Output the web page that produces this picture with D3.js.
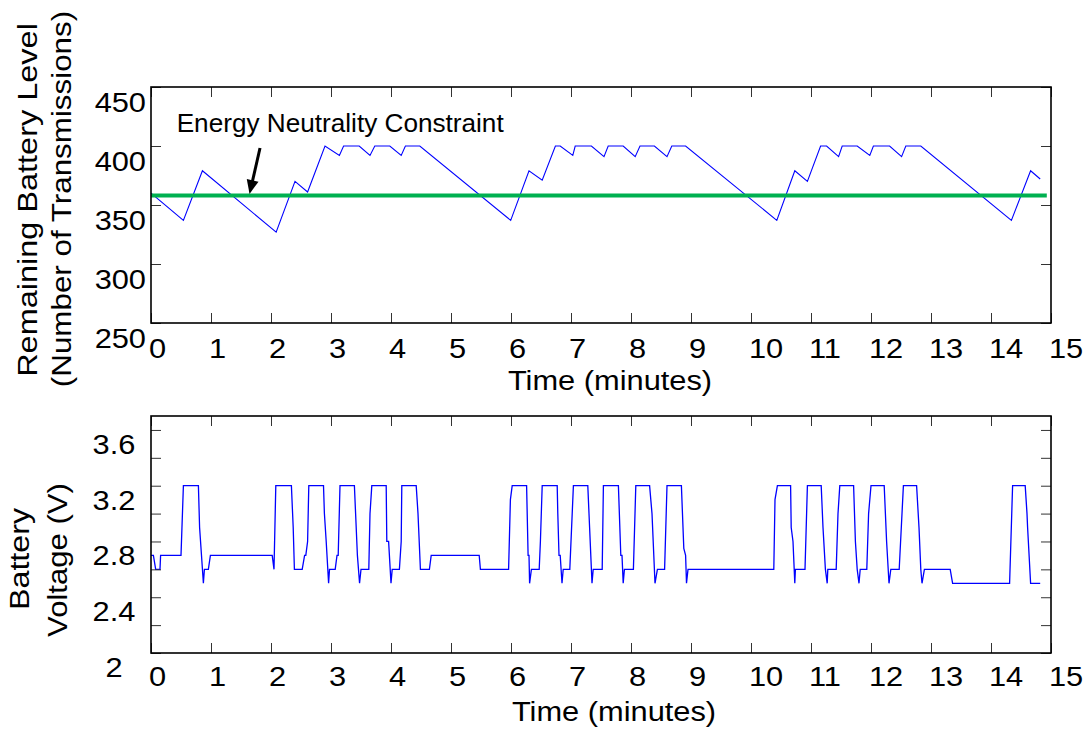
<!DOCTYPE html>
<html>
<head>
<meta charset="utf-8">
<script src="https://cdn.jsdelivr.net/npm/d3@7"></script>
<style>
  body { margin: 0; background: #fff; }
  svg { display: block; }
  text { font-family: "Liberation Sans", Arial, Helvetica, sans-serif; fill: #000; }
</style>
</head>
<body>
<svg id="chart" width="1089" height="734"></svg>
<script>
// ---- Remaining battery level (number of transmissions) over time ----
const levelTime = [0, 0.54, 0.857, 2.086, 2.40, 2.61, 2.90, 3.14, 3.21, 3.47, 3.65, 3.73, 3.98, 4.17, 4.24, 4.48,
  5.995, 6.30, 6.52, 6.74, 6.82, 7.03, 7.07, 7.34, 7.55, 7.62, 7.87, 8.07, 8.15, 8.39, 8.60, 8.68, 8.91,
  10.43, 10.73, 10.94, 11.16, 11.26, 11.46, 11.52, 11.77, 11.98, 12.04, 12.31, 12.51, 12.58, 12.83,
  14.34, 14.66, 14.82];
const levelValue = [360, 337, 379, 327, 370, 361, 400, 392, 400, 400, 392, 400, 400, 392, 400, 400,
  337, 379, 371, 400, 400, 392, 400, 400, 391, 400, 400, 391, 400, 400, 391, 400, 400,
  337, 379, 370, 400, 400, 391, 400, 400, 392, 400, 400, 391, 400, 400,
  337, 379, 372];

// Energy neutrality constraint (horizontal reference level)
const neutralityLevel = 358;
const neutralitySpan = [0, 14.93];

// ---- Battery voltage over time ----
const voltTime = [0, 0.04, 0.078, 0.15, 0.16, 0.50, 0.54, 0.79, 0.81, 0.873, 0.89, 0.956, 0.99,
  2.02, 2.05, 2.08, 2.34, 2.36, 2.37, 2.39, 2.52, 2.56, 2.58, 2.61, 2.63,
  2.875, 2.89, 2.92, 2.96, 2.975, 3.07, 3.10, 3.12, 3.15,
  3.39, 3.41, 3.44, 3.476, 3.50, 3.63, 3.65, 3.68,
  3.92, 3.93, 3.96, 4.00, 4.02, 4.14, 4.17, 4.18,
  4.42, 4.45, 4.46, 4.49, 4.64, 4.67,
  5.47, 5.49, 5.96, 5.99, 6.02,
  6.26, 6.285, 6.30, 6.31, 6.34, 6.47, 6.49, 6.52,
  6.77, 6.78, 6.80, 6.82, 6.85, 6.87, 6.98, 7.04,
  7.28, 7.31, 7.33, 7.35, 7.37, 7.52, 7.54,
  7.79, 7.83, 7.85, 7.87, 7.89, 8.04, 8.08,
  8.31, 8.35, 8.38, 8.40, 8.44, 8.56, 8.60,
  8.84, 8.88, 8.91, 8.925, 8.95,
  10.38, 10.40, 10.44, 10.66, 10.67, 10.70, 10.71, 10.73, 10.74, 10.90, 10.94,
  11.17, 11.20, 11.24, 11.27, 11.28, 11.42, 11.45, 11.48,
  11.71, 11.74, 11.77, 11.80, 11.82, 11.93, 11.96, 12.00,
  12.22, 12.26, 12.30, 12.33, 12.47, 12.54,
  12.76, 12.80, 12.83, 12.85, 12.89, 13.32, 13.36, 14.31, 14.36,
  14.57, 14.60, 14.61, 14.66, 14.82];
const voltValue = [2.7, 2.7, 2.6, 2.6, 2.7, 2.7, 3.2, 3.2, 2.9, 2.5, 2.6, 2.6, 2.7,
  2.7, 2.6, 3.2, 3.2, 3.0, 2.9, 2.6, 2.6, 2.7, 2.7, 2.8, 3.2,
  3.2, 3.0, 2.8, 2.5, 2.6, 2.6, 2.7, 2.7, 3.2,
  3.2, 3.0, 2.7, 2.5, 2.6, 2.6, 3.0, 3.2,
  3.2, 2.8, 2.8, 2.5, 2.6, 2.6, 2.8, 3.2,
  3.2, 3.0, 2.9, 2.6, 2.6, 2.7,
  2.7, 2.6, 2.6, 3.1, 3.2,
  3.2, 2.7, 2.7, 2.5, 2.6, 2.6, 2.8, 3.2,
  3.2, 3.0, 2.7, 2.7, 2.5, 2.6, 2.6, 3.2,
  3.2, 2.9, 2.7, 2.5, 2.6, 2.6, 3.2,
  3.2, 2.7, 2.7, 2.5, 2.6, 2.6, 3.2,
  3.2, 3.0, 2.7, 2.5, 2.6, 2.6, 3.2,
  3.2, 2.75, 2.7, 2.5, 2.6,
  2.6, 3.1, 3.2, 3.2, 2.9, 2.8, 2.7, 2.5, 2.6, 2.6, 3.2,
  3.2, 2.9, 2.6, 2.5, 2.6, 2.6, 3.0, 3.2,
  3.2, 2.8, 2.6, 2.5, 2.6, 2.6, 3.0, 3.2,
  3.2, 2.8, 2.5, 2.6, 2.6, 3.2,
  3.2, 2.9, 2.6, 2.5, 2.6, 2.6, 2.5, 2.5, 3.2,
  3.2, 3.0, 2.9, 2.5, 2.5];

// ---- Axis ticks and labels ----
const timeTicks = d3.range(0, 16);
const levelTicks = [250, 300, 350, 400, 450];
const voltTicks = [2.0, 2.2, 2.4, 2.6, 2.8, 3.0, 3.2, 3.4, 3.6];
const voltLabels = [2, 2.4, 2.8, 3.2, 3.6];

// annotation: label anchor and arrow (tail -> head) in data units
const noteText = "Energy Neutrality Constraint";
const notePos = [0.428, 412.1];
const arrowTail = [1.817, 398.3];
const arrowHead = [1.642, 359.3];

const svg = d3.select("#chart");
const STRETCH = 1.1;   // glyph width factor of the chart's typeface

const xTop = d3.scaleLinear().domain([0, 15]).range([151, 1051]);
const yTop = d3.scaleLinear().domain([250, 450]).range([323, 87]);
const xBot = d3.scaleLinear().domain([0, 15]).range([151, 1051]);
const yBot = d3.scaleLinear().domain([2, 3.7]).range([653, 416]);

function drawFrame(x, y, yTickVals) {
  const g = svg.append("g");
  const [x0, x1] = x.range();
  const [y0, y1] = y.range();
  const tickStyle = sel => {
    sel.select(".domain").remove();
    sel.selectAll(".tick line").attr("stroke", "#333").attr("stroke-width", 1);
    sel.selectAll(".tick text").remove();
  };
  g.append("g").attr("transform", `translate(0,${y0})`)
    .call(d3.axisBottom(x).tickValues(timeTicks).tickSizeInner(-10).tickSizeOuter(0)).call(tickStyle);
  g.append("g").attr("transform", `translate(0,${y1})`)
    .call(d3.axisTop(x).tickValues(timeTicks).tickSizeInner(-10).tickSizeOuter(0)).call(tickStyle);
  g.append("g").attr("transform", `translate(${x0},0)`)
    .call(d3.axisLeft(y).tickValues(yTickVals).tickSizeInner(-10).tickSizeOuter(0)).call(tickStyle);
  g.append("g").attr("transform", `translate(${x1},0)`)
    .call(d3.axisRight(y).tickValues(yTickVals).tickSizeInner(-10).tickSizeOuter(0)).call(tickStyle);
  g.append("rect")
    .attr("x", x0).attr("y", y1).attr("width", x1 - x0).attr("height", y0 - y1)
    .attr("fill", "none").attr("stroke", "#000").attr("stroke-width", 1.6);
  return g;
}

function label(parent, txt, x, y, opts = {}) {
  const rot = opts.rotate ? " rotate(-90)" : "";
  return parent.append("text")
    .attr("transform", `translate(${x},${y})${rot} scale(${opts.stretch || STRETCH},1)`)
    .attr("text-anchor", opts.anchor || "start")
    .attr("font-size", opts.size || 28)
    .text(txt);
}

// ---------- top panel ----------
const topG = svg.append("g");

const levelLine = d3.line().x((d, i) => xTop(levelTime[i])).y(d => yTop(d));
topG.append("path")
  .datum(levelValue)
  .attr("d", levelLine)
  .attr("fill", "none").attr("stroke", "#0000ff").attr("stroke-width", 1.1)
  .attr("stroke-linejoin", "miter");

topG.append("line")
  .attr("x1", xTop(neutralitySpan[0])).attr("x2", xTop(neutralitySpan[1]))
  .attr("y1", yTop(neutralityLevel)).attr("y2", yTop(neutralityLevel))
  .attr("stroke", "#00b050").attr("stroke-width", 4);

const topFrame = drawFrame(xTop, yTop, levelTicks);

timeTicks.forEach(t => label(topFrame, String(t), xTop(t) - 2, 358));
levelTicks.forEach(v => label(topFrame, String(v), 146, yTop(v) + 25, { anchor: "end" }));
label(topFrame, "Time (minutes)", 610, 390, { anchor: "middle" });
label(topFrame, "Remaining Battery Level", 37, 200, { anchor: "middle", rotate: true, stretch: 1.16 });
label(topFrame, "(Number of Transmissions)", 71, 199, { anchor: "middle", rotate: true, stretch: 1.12 });

// annotation with arrow
svg.append("text")
  .attr("x", xTop(notePos[0])).attr("y", yTop(notePos[1]))
  .attr("font-family", "Lato, 'Open Sans', sans-serif")
  .attr("font-size", 26)
  .attr("textLength", 327).attr("lengthAdjust", "spacingAndGlyphs")
  .text(noteText);

const ax0 = xTop(arrowTail[0]), ay0 = yTop(arrowTail[1]);
const ax1 = xTop(arrowHead[0]), ay1 = yTop(arrowHead[1]);
const len = Math.hypot(ax1 - ax0, ay1 - ay0);
const ux = (ax1 - ax0) / len, uy = (ay1 - ay0) / len;
const headLen = 14, headHalf = 6;
const bx = ax1 - ux * headLen, by = ay1 - uy * headLen;
svg.append("line")
  .attr("x1", ax0).attr("y1", ay0).attr("x2", bx + ux * 2).attr("y2", by + uy * 2)
  .attr("stroke", "#000").attr("stroke-width", 3);
svg.append("path")
  .attr("d", `M${ax1},${ay1}L${bx - uy * headHalf},${by + ux * headHalf}L${bx + uy * headHalf},${by - ux * headHalf}Z`)
  .attr("fill", "#000");

// ---------- bottom panel ----------
const botG = svg.append("g");
const voltLine = d3.line().x((d, i) => xBot(voltTime[i])).y(d => yBot(d));
botG.append("path")
  .datum(voltValue)
  .attr("d", voltLine)
  .attr("fill", "none").attr("stroke", "#0000ff").attr("stroke-width", 1.3);

const botFrame = drawFrame(xBot, yBot, voltTicks);
timeTicks.forEach(t => label(botFrame, String(t), xBot(t) - 2, 686));
voltLabels.forEach(v => label(botFrame, String(v), 114, yBot(v) + 24, { anchor: "middle" }));
label(botFrame, "Time (minutes)", 614, 721, { anchor: "middle" });
label(botFrame, "Battery", 29, 559, { anchor: "middle", rotate: true, stretch: 1.15 });
label(botFrame, "Voltage (V)", 67, 560, { anchor: "middle", rotate: true, stretch: 1.11 });
</script>
</body>
</html>
